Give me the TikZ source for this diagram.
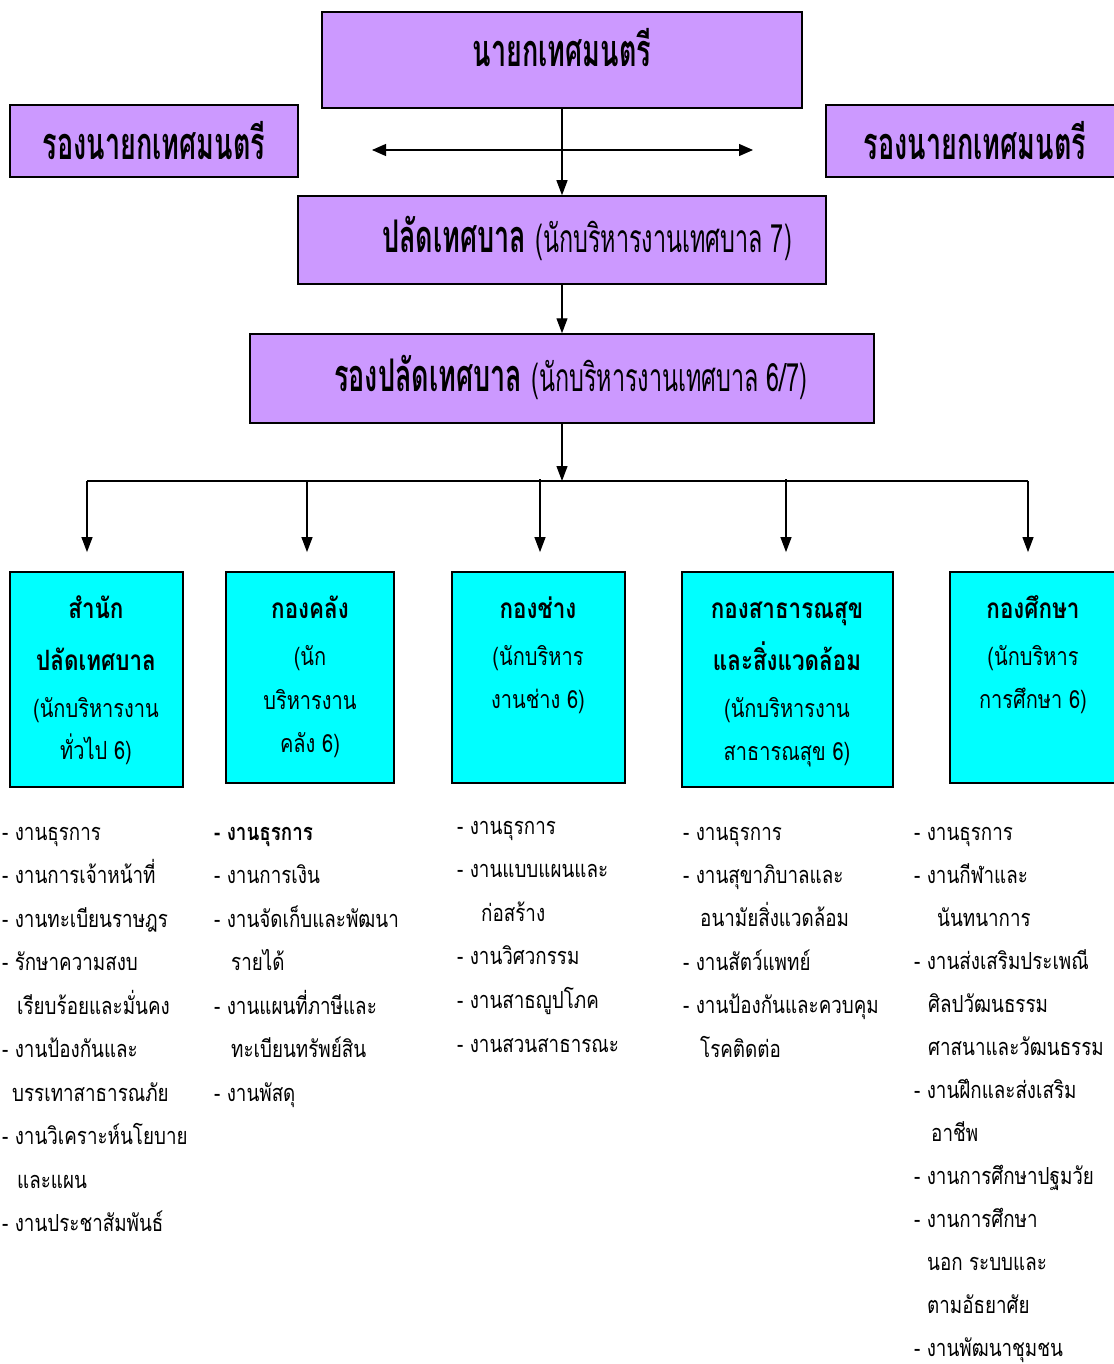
\documentclass[tikz,border=0pt]{standalone}
\usepackage{fontspec}
\setmainfont{Liberation Serif}
\newfontfamily\thai[Script=Thai,FakeStretch=0.8]{Loma}
\newfontfamily\thaicond[Script=Thai,FakeStretch=0.6]{Loma}
\newcommand\mysubfont{\thaicond\mdseries\fontsize{39}{44}\selectfont}
\usetikzlibrary{arrows.meta}
\definecolor{violetbox}{HTML}{CC99FF}
\definecolor{cyanbox}{HTML}{00FFFF}
\begin{document}
\begin{tikzpicture}[x=1pt,y=-1pt,
  pbox/.style={draw, line width=1.5pt, fill=violetbox, inner sep=0, minimum width=#1},
  cbox/.style={draw, line width=1.8pt, fill=cyanbox, inner sep=0, minimum width=#1},
  arr/.style={line width=1.2pt, -{Triangle[length=15pt,width=11pt]}},
  darr/.style={line width=1.2pt, {Triangle[length=14pt,width=12pt]}-{Triangle[length=14pt,width=12pt]}},
  ln/.style={line width=1.6pt},
  head/.style={inner sep=0, anchor=base, font=\thaicond\bfseries\fontsize{45}{50}\selectfont},
  headw/.style={inner sep=0, anchor=base west, font=\thaicond\bfseries\fontsize{45}{50}\selectfont},
  ctb/.style={inner sep=0, anchor=base, font=\thai\bfseries\fontsize{28}{32}\selectfont},
  ctn/.style={inner sep=0, anchor=base, font=\thai\fontsize{25}{30}\selectfont},
  lst/.style={inner sep=0, anchor=base west, font=\thai\fontsize{23.5}{28}\selectfont},
]
\useasboundingbox[fill=white] (0,0) rectangle (1113,1364);

% purple boxes
\node[pbox=480, minimum height=96] (mayor) at (562,60) {};
\node[pbox=288, minimum height=72] (ldep) at (154,141) {};
\node[pbox=290, minimum height=72] (rdep) at (971,141) {};
\node[pbox=528, minimum height=88] (clerk) at (562,240) {};
\node[pbox=624, minimum height=89] (dclerk) at (562,378.5) {};

\node[head] (mayort) at (562,67) {นายกเทศมนตรี};
\node[head] (ldept) at (154,160) {รองนายกเทศมนตรี};
\node[head] (rdept) at (975,160) {รองนายกเทศมนตรี};
\node[headw] (clerkt) at (382,252) {ปลัดเทศบาล {\mysubfont(นักบริหารงานเทศบาล 7)}};
\node[headw] (dclerkt) at (334,391) {รองปลัดเทศบาล {\mysubfont(นักบริหารงานเทศบาล 6/7)}};

% cyan boxes
\node[cbox=173, minimum height=215] (c1) at (96.5,679.5) {};
\node[cbox=168, minimum height=211] (c2) at (310,677.5) {};
\node[cbox=173, minimum height=211] (c3) at (538.5,677.5) {};
\node[cbox=211, minimum height=215] (c4) at (787.5,679.5) {};
\node[cbox=175, minimum height=211] (c5) at (1037.5,677.5) {};

\node[ctb] (c1a) at (96,618) {สำนัก};
\node[ctb] (c1b) at (96,670) {ปลัดเทศบาล};
\node[ctn] (c1c) at (96,717) {(นักบริหารงาน};
\node[ctn] (c1d) at (96,759) {ทั่วไป 6)};

\node[ctb] (c2a) at (310,618) {กองคลัง};
\node[ctn] (c2b) at (310,665) {(นัก};
\node[ctn] (c2c) at (310,709) {บริหารงาน};
\node[ctn] (c2d) at (310,752) {คลัง 6)};

\node[ctb] (c3a) at (538,618) {กองช่าง};
\node[ctn] (c3b) at (538,665) {(นักบริหาร};
\node[ctn] (c3c) at (538,708) {งานช่าง 6)};

\node[ctb] (c4a) at (787,618) {กองสาธารณสุข};
\node[ctb] (c4b) at (787,670) {และสิ่งแวดล้อม};
\node[ctn] (c4c) at (787,717) {(นักบริหารงาน};
\node[ctn] (c4d) at (787,760) {สาธารณสุข 6)};

\node[ctb] (c5a) at (1033,618) {กองศึกษา};
\node[ctn] (c5b) at (1033,665) {(นักบริหาร};
\node[ctn] (c5c) at (1033,708) {การศึกษา 6)};

% connectors
\coordinate (da1) at (372,150);
\coordinate (da2) at (753,150);
\draw[darr] (da1) -- (da2);
\draw[arr] (mayor.south) -- (clerk.north);
\draw[arr] (clerk.south) -- (dclerk.north);
\coordinate (bus) at (562,481);
\draw[arr] (dclerk.south) -- (bus);
\coordinate (t1) at (87,481);
\coordinate (t2) at (307,481);
\coordinate (t3) at (540,479);
\coordinate (t4) at (786,479);
\coordinate (t5) at (1028,481);
\draw[ln] (t1) -- (t5);
\foreach \i in {1,...,5} \draw[arr, shorten >=19pt] (t\i) -- (t\i |- c\i.north);

% lists
\foreach \t [count=\i] in {- งานธุรการ, - งานการเจ้าหน้าที่, - งานทะเบียนราษฎร, - รักษาความสงบ, \hspace*{15pt}เรียบร้อยและมั่นคง, - งานป้องกันและ, \hspace*{10pt}บรรเทาสาธารณภัย, - งานวิเคราะห์นโยบาย, \hspace*{15pt}และแผน, - งานประชาสัมพันธ์}
  \node[lst] (la\i) at (2,{840+43.5*(\i-1)}) {\t};
\foreach \t [count=\i] in {{\bfseries - งานธุรการ}, - งานการเงิน, - งานจัดเก็บและพัฒนา, \hspace*{17pt}รายได้, - งานแผนที่ภาษีและ, \hspace*{17pt}ทะเบียนทรัพย์สิน, - งานพัสดุ}
  \node[lst] (lb\i) at (214,{840+43.5*(\i-1)}) {\t};
\foreach \t [count=\i] in {- งานธุรการ, - งานแบบแผนและ, \hspace*{24pt}ก่อสร้าง, - งานวิศวกรรม, - งานสาธญูปโภค, - งานสวนสาธารณะ}
  \node[lst] (lc\i) at (457,{834+43.6*(\i-1)}) {\t};
\foreach \t [count=\i] in {- งานธุรการ, - งานสุขาภิบาลและ, \hspace*{17pt}อนามัยสิ่งแวดล้อม, - งานสัตว์แพทย์, - งานป้องกันและควบคุม, \hspace*{17pt}โรคติดต่อ}
  \node[lst] (ld\i) at (683,{840+43.4*(\i-1)}) {\t};
\foreach \t [count=\i] in {- งานธุรการ, - งานกีฬาและ, \hspace*{23pt}นันทนาการ, - งานส่งเสริมประเพณี, \hspace*{14pt}ศิลปวัฒนธรรม, \hspace*{14pt}ศาสนาและวัฒนธรรม, - งานฝึกและส่งเสริม, \hspace*{17pt}อาชีพ, - งานการศึกษาปฐมวัย, - งานการศึกษา, \hspace*{13pt}นอก ระบบและ, \hspace*{13pt}ตามอัธยาศัย, - งานพัฒนาชุมชน}
  \node[lst] (le\i) at (914,{840+43.05*(\i-1)}) {\t};
\end{tikzpicture}
\end{document}
